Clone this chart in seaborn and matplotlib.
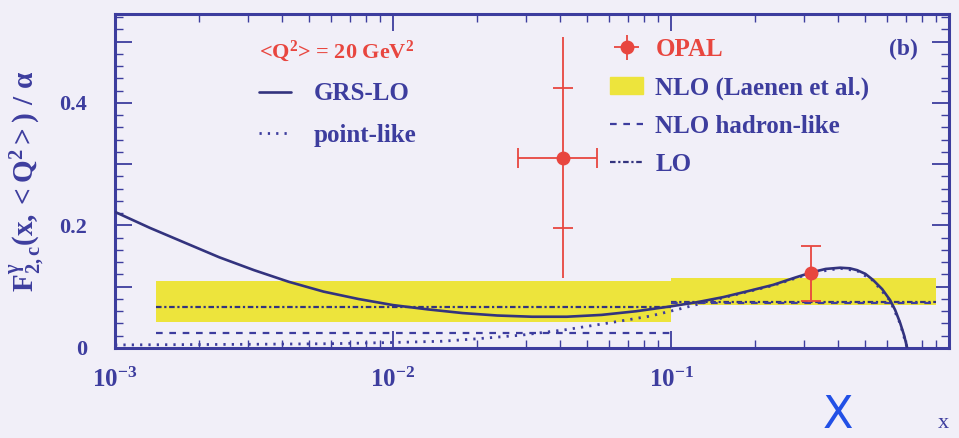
import matplotlib
matplotlib.use("Agg")
import matplotlib.pyplot as plt
import seaborn as sns
import pandas as pd
from matplotlib.ticker import MultipleLocator, FixedLocator, LogLocator, NullFormatter
from matplotlib.patches import Patch
from matplotlib.lines import Line2D

# GRS-LO curve
grs_x = [0.001, 0.001334, 0.001778, 0.002371, 0.003162, 0.004217, 0.005623, 0.007499,
         0.01, 0.01334, 0.01778, 0.02371, 0.03162, 0.04217, 0.05623, 0.07499,
         0.1, 0.125, 0.154, 0.19, 0.233, 0.28, 0.324,
         0.36, 0.406, 0.44, 0.467, 0.50, 0.533, 0.575, 0.614, 0.64, 0.667, 0.69, 0.707]
grs_y = [0.222, 0.196, 0.172, 0.148, 0.127, 0.108, 0.092, 0.080,
         0.070, 0.063, 0.057, 0.053, 0.051, 0.051, 0.054, 0.060,
         0.068, 0.075, 0.083, 0.093, 0.103, 0.115, 0.124,
         0.129, 0.131, 0.130, 0.127, 0.121, 0.111, 0.096, 0.078, 0.062, 0.041, 0.020, 0.0]

# point-like curve
pl_x = [0.001, 0.003, 0.006, 0.01, 0.015, 0.02, 0.029, 0.042, 0.06, 0.084, 0.108,
        0.154, 0.233, 0.324, 0.406, 0.467, 0.533, 0.614, 0.667, 0.707]
pl_y = [0.005, 0.006, 0.007, 0.009, 0.011, 0.015, 0.021, 0.030, 0.041, 0.052, 0.064,
        0.082, 0.102, 0.123, 0.130, 0.126, 0.110, 0.077, 0.040, 0.0]

# binned predictions
bin_lo = [0.0014, 0.1]
bin_hi = [0.1, 0.9]
nlo_low = [0.043, 0.070]
nlo_high = [0.110, 0.115]
nlo_hadron = [0.025, 0.073]
lo_pred = [0.067, 0.075]

# OPAL data
opal_x = [0.041, 0.32]
opal_y = [0.31, 0.122]
opal_xmin = [0.0282, 0.32]
opal_xmax = [0.0542, 0.32]
opal_stat = [0.115, 0.045]
opal_err_lo = [0.196, 0.044]
opal_err_hi = [0.197, 0.045]

navy = "#3d3d9e"
dark = "#33337e"
red = "#e8463f"
yellow = "#ede43c"
bg = "#f1eff8"

sns.set_style("ticks")
plt.rcParams["font.family"] = ["Liberation Serif", "DejaVu Serif"]
plt.rcParams["font.weight"] = "bold"
plt.rcParams["mathtext.fontset"] = "custom"
plt.rcParams["mathtext.rm"] = "Liberation Serif:bold"
plt.rcParams["mathtext.it"] = "Liberation Serif:bold"
plt.rcParams["mathtext.bf"] = "Liberation Serif:bold"

fig = plt.figure(figsize=(9.59, 4.38), dpi=100, facecolor=bg)
ax = fig.add_axes([0.120, 0.2055, 0.8696, 0.7625])
ax.set_facecolor(bg)

# NLO band and binned lines
for i in range(len(bin_lo)):
    ax.fill_between([bin_lo[i], bin_hi[i]], nlo_low[i], nlo_high[i],
                    color=yellow, lw=0, zorder=1)
    ax.plot([bin_lo[i], bin_hi[i]], [lo_pred[i]] * 2, color=dark, lw=1.6,
            dashes=(2.5, 1.2, 1, 1.2), zorder=2)
    ax.plot([bin_lo[i], bin_hi[i]], [nlo_hadron[i]] * 2, color=navy, lw=1.6,
            dashes=(3, 3), zorder=2)

curves = pd.DataFrame({"x": grs_x, "y": grs_y})
sns.lineplot(data=curves, x="x", y="y", ax=ax, color=dark, lw=1.9, zorder=4,
             estimator=None, sort=False)
points = pd.DataFrame({"x": pl_x, "y": pl_y})
sns.lineplot(data=points, x="x", y="y", ax=ax, color=navy, lw=2.0, zorder=3,
             estimator=None, sort=False, linestyle=(0, (0.8, 2.2)))

# OPAL points
xerr = [[opal_x[i] - opal_xmin[i] for i in range(2)],
        [opal_xmax[i] - opal_x[i] for i in range(2)]]
opal = ax.errorbar(opal_x, opal_y, xerr=xerr, yerr=[opal_err_lo, opal_err_hi],
                   fmt="o", color=red, ms=9, elinewidth=1.3, capsize=0, zorder=6)
ax.plot(opal_xmin[:1] + opal_xmax[:1], opal_y[:1] * 2, ls="none", marker="|",
        ms=14, mew=1.3, color=red, zorder=6)
stat_x = opal_x + opal_x
stat_y = [opal_y[i] + opal_stat[i] for i in range(2)] + \
         [opal_y[i] - opal_stat[i] for i in range(2)]
ax.plot(stat_x, stat_y, ls="none", marker="_", ms=14, mew=1.3, color=red, zorder=6)

ax.set_xscale("log")
ax.set_xlim(1e-3, 1)
ax.set_ylim(0, 0.545)

ax.xaxis.set_major_locator(FixedLocator([1e-3, 1e-2, 1e-1]))
ax.xaxis.set_minor_locator(LogLocator(base=10, subs=range(2, 10), numticks=20))
ax.xaxis.set_minor_formatter(NullFormatter())
ax.set_yticks([0, 0.1, 0.2, 0.3, 0.4, 0.5], ["0", "", "0.2", "", "0.4", ""])
ax.yaxis.set_minor_locator(MultipleLocator(0.02))
ax.tick_params(which="both", direction="in", top=True, right=True, color=navy,
               labelcolor=navy)
ax.tick_params(which="major", length=12, width=1.3)
ax.tick_params(which="minor", length=6, width=1.0)
ax.tick_params(axis="y", pad=20, labelsize=16)
ax.tick_params(axis="x", pad=14, labelsize=18)
for s in ax.spines.values():
    s.set_color(navy)
    s.set_linewidth(2.2)

ax.set_xlabel("x", loc="right", color=navy, fontsize=16, labelpad=16)
ax.set_ylabel(r"$\mathrm{F}_{2,c}^{\gamma}\mathrm{(x,<Q^{2}>)\ /\ \alpha}$",
              color=navy, fontsize=21, labelpad=10)

leg1 = ax.legend(handles=[Line2D([], [], color=dark, lw=1.9),
                          Line2D([], [], color=navy, lw=2.0, ls=(0, (0.8, 2.2)))],
                 labels=["GRS-LO", "point-like"], title=r"<Q$^2$> = 20 GeV$^2$",
                 loc="upper left", bbox_to_anchor=(0.145, 0.995), frameon=False,
                 fontsize=18, title_fontsize=16, handlelength=1.3, handletextpad=0.9,
                 labelspacing=0.75, alignment="left")
leg1.get_title().set_color(red)
for t in leg1.get_texts():
    t.set_color(navy)
ax.add_artist(leg1)

leg2 = ax.legend(handles=[opal, Patch(color=yellow),
                          Line2D([], [], color=navy, lw=1.6, dashes=(3, 3)),
                          Line2D([], [], color=dark, lw=1.6, dashes=(2.5, 1.2, 1, 1.2))],
                 labels=["OPAL", "NLO (Laenen et al.)", "NLO hadron-like", "LO"],
                 loc="upper left", bbox_to_anchor=(0.567, 0.995), frameon=False,
                 fontsize=18, handlelength=1.3, handletextpad=0.5, labelspacing=0.6)
colors = [red, navy, navy, navy]
for t, c in zip(leg2.get_texts(), colors):
    t.set_color(c)

ax.text(0.963, 0.895, "(b)", transform=ax.transAxes, ha="right", va="center",
        color=navy, fontsize=17)

fig.text(0.874, 0.052, "X", ha="center", va="center", color="#2250e6",
         fontsize=32, family="DejaVu Sans", weight="normal")

fig.savefig("out.png", dpi=100, facecolor=bg)
